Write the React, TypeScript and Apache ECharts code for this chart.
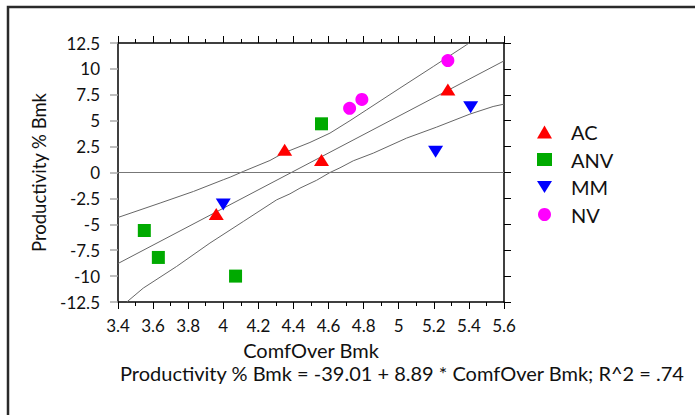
import React, { useEffect, useRef } from "react";
import * as echarts from "echarts";

const seriesNames = ["AC", "ANV", "MM", "NV"];
const acPoints = [[4.35, 2.2], [4.56, 1.2], [3.96, -4.0], [5.28, 8.0]];
const anvPoints = [[4.56, 4.7], [3.55, -5.6], [3.63, -8.2], [4.07, -10.0]];
const mmPoints = [[4.0, -3.1], [5.41, 6.3], [5.21, 2.0]];
const nvPoints = [[4.72, 6.2], [4.79, 7.05], [5.28, 10.8]];

const regressionLine = [[3.4, -8.784], [5.6, 10.774]];
const upperBand = [
  [3.4, -4.34], [3.64, -2.95], [3.83, -1.83], [4.0, -0.7], [4.039, -0.45], [4.114, 0.1],
  [4.266, 1.16], [4.342, 1.87], [4.494, 2.9], [4.608, 3.8], [4.722, 5.0], [4.817, 6.05],
  [5.007, 8.15], [5.197, 10.23], [5.387, 12.33], [5.4, 12.5],
];
const lowerBand = [
  [3.45, -12.5], [3.544, -11.16], [3.734, -9.07], [3.924, -6.81], [4.114, -4.73], [4.304, -2.64],
  [4.38, -2.06], [4.437, -1.51], [4.532, -0.75], [4.608, 0.0], [4.665, 0.45], [4.741, 1.13],
  [4.855, 1.87], [5.045, 3.32], [5.216, 4.38], [5.406, 5.64], [5.538, 6.37], [5.6, 6.6],
];

const xTitle = "ComfOver Bmk";
const yTitle = "Productivity % Bmk";
const equationText = "Productivity % Bmk = -39.01 + 8.89 * ComfOver Bmk; R^2 = .74";

const FONT = "Lato";
const downTriangle = "path://M0,0 L10,0 L5,8 Z";

export default function App() {
  const ref = useRef<HTMLDivElement>(null);
  useEffect(() => {
    if (!ref.current) return;
    const chart = echarts.init(ref.current, undefined, { renderer: "svg" });
    const lineStyle = { color: "#666666", width: 1 };
    const bandSeries = (data: number[][]) => ({
      type: "line",
      data,
      showSymbol: false,
      symbol: "none",
      lineStyle,
      silent: true,
      z: 1,
    });
    chart.setOption({
      animation: false,
      backgroundColor: "#ffffff",
      textStyle: { fontFamily: FONT },
      grid: { left: 118, right: 191, top: 43, bottom: 113 },
      legend: {
        orient: "vertical",
        left: 532,
        top: 117,
        itemGap: 7.5,
        itemWidth: 15,
        itemHeight: 13,
        data: seriesNames,
        textStyle: { fontFamily: FONT, fontSize: 20, color: "#111", padding: [0, 0, 0, 14], lineHeight: 20 },
      },
      xAxis: [
        {
          type: "value",
          min: 3.4,
          max: 5.6,
          interval: 0.2,
          position: "bottom",
          name: xTitle,
          nameLocation: "middle",
          nameGap: 38,
          nameTextStyle: { fontFamily: FONT, fontSize: 20, color: "#111" },
          axisLine: { show: true, onZero: false, lineStyle: { color: "#000", width: 1.5 } },
          axisTick: { show: true, inside: false, length: 7, lineStyle: { color: "#000" } },
          minorTick: { show: true, splitNumber: 2, length: 4, lineStyle: { color: "#000" } },
          splitLine: { show: false },
          axisLabel: { fontFamily: FONT, fontSize: 17, color: "#111", margin: 15 },
        },
        {
          type: "value",
          min: 3.4,
          max: 5.6,
          interval: 0.2,
          position: "top",
          axisLine: { show: true, onZero: false, lineStyle: { color: "#000", width: 1.5 } },
          axisTick: { show: true, inside: false, length: 7, lineStyle: { color: "#000" } },
          minorTick: { show: true, splitNumber: 2, length: 4, lineStyle: { color: "#000" } },
          splitLine: { show: false },
          axisLabel: { show: false },
        },
      ],
      yAxis: [
        {
          type: "value",
          min: -12.5,
          max: 12.5,
          interval: 2.5,
          position: "left",
          name: yTitle,
          nameLocation: "middle",
          nameGap: 70,
          nameTextStyle: { fontFamily: FONT, fontSize: 18.5, color: "#111" },
          axisLine: { show: true, onZero: false, lineStyle: { color: "#000", width: 1.5 } },
          axisTick: { show: true, inside: false, length: 8, lineStyle: { color: "#aaaaaa", width: 1.5 } },
          splitLine: { show: false },
          axisLabel: { fontFamily: FONT, fontSize: 17, color: "#111", margin: 18 },
        },
        {
          type: "value",
          min: -12.5,
          max: 12.5,
          interval: 2.5,
          position: "right",
          axisLine: { show: true, onZero: false, lineStyle: { color: "#000", width: 1.5 } },
          axisTick: { show: true, inside: false, length: 7, lineStyle: { color: "#000" } },
          splitLine: { show: false },
          axisLabel: { show: false },
        },
      ],
      graphic: [
        {
          type: "rect",
          shape: { x: 8, y: 7, width: 720, height: 440 },
          style: { fill: "none", stroke: "#2a2a2a", lineWidth: 2.5 },
          silent: true,
          z: -1,
        },
        {
          type: "text",
          x: 120,
          y: 373,
          style: {
            text: equationText,
            font: `20px ${FONT}`,
            fill: "#111",
            verticalAlign: "middle",
            align: "left",
          },
        },
      ],
      series: [
        {
          ...bandSeries(regressionLine),
          markLine: {
            silent: true,
            symbol: "none",
            label: { show: false },
            lineStyle: { color: "#777", width: 1, type: "solid" },
            data: [{ yAxis: 0 }],
          },
        },
        bandSeries(upperBand),
        bandSeries(lowerBand),
        {
          name: "AC",
          type: "scatter",
          data: acPoints,
          symbol: "triangle",
          symbolSize: [15, 12],
          itemStyle: { color: "#ff0000", opacity: 1 },
          z: 3,
        },
        {
          name: "ANV",
          type: "scatter",
          data: anvPoints,
          symbol: "rect",
          symbolSize: 13,
          itemStyle: { color: "#00aa00", opacity: 1 },
          z: 3,
        },
        {
          name: "MM",
          type: "scatter",
          data: mmPoints,
          symbol: downTriangle,
          symbolSize: [15, 12],
          itemStyle: { color: "#0000ff", opacity: 1 },
          z: 3,
        },
        {
          name: "NV",
          type: "scatter",
          data: nvPoints,
          symbol: "circle",
          symbolSize: 13,
          itemStyle: { color: "#ff00ff", opacity: 1 },
          z: 3,
        },
      ],
    });
    return () => chart.dispose();
  }, []);
  return (
    <div
      ref={ref}
      style={{ position: "fixed", left: 0, top: 0, width: 695, height: 415, overflow: "hidden" }}
    />
  );
}
